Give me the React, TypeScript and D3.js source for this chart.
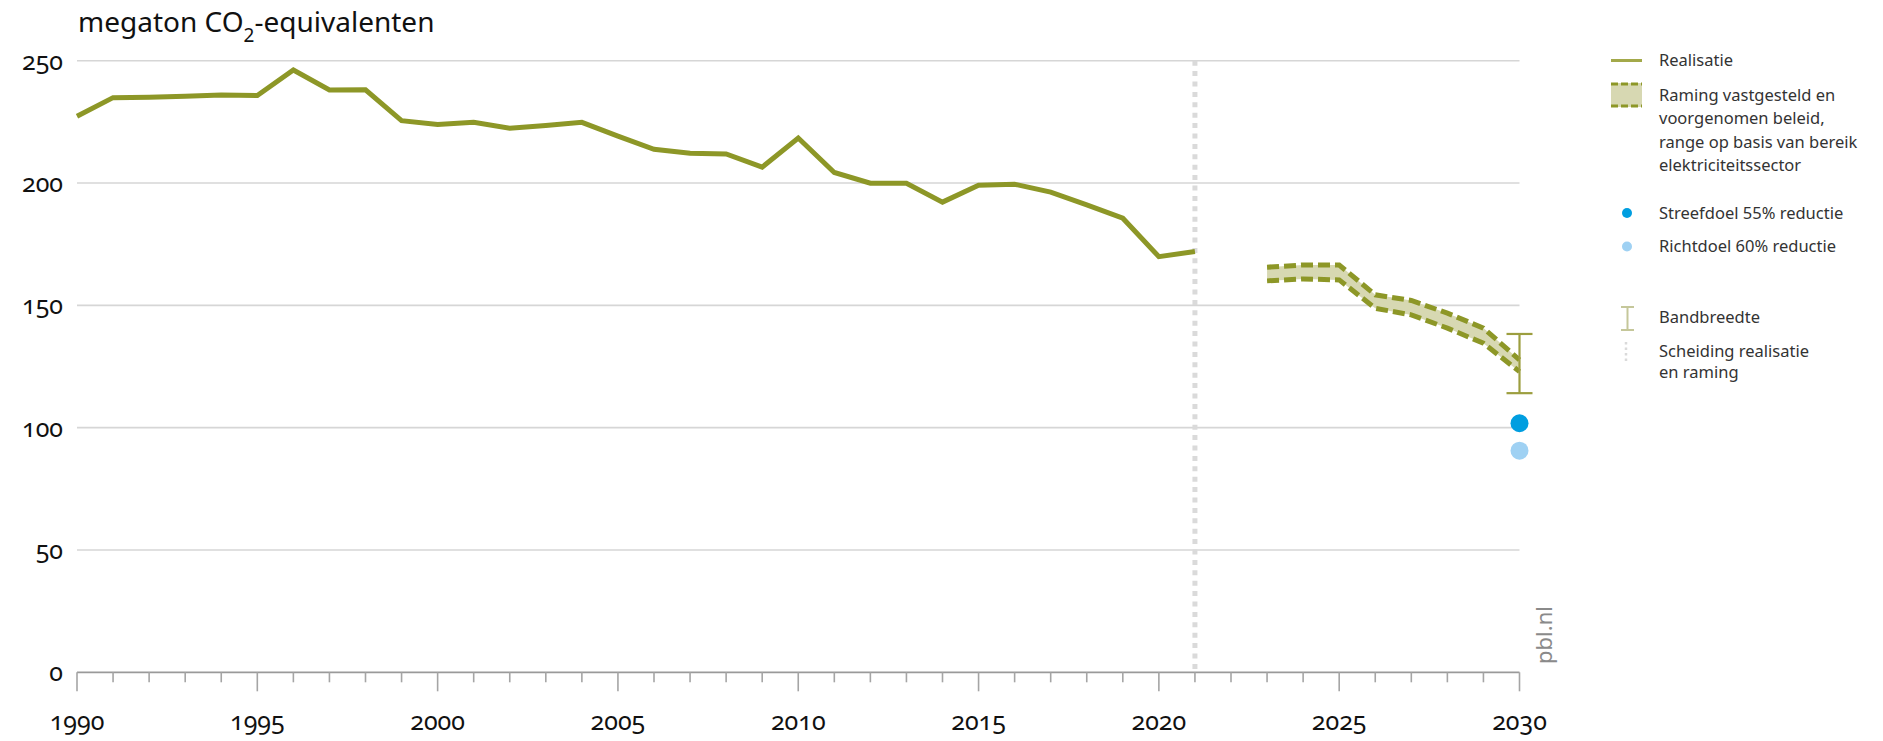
import React from 'react';
import * as d3 from 'd3';

// realisatie (historische emissies)
const realYears = [1990, 1991, 1992, 1993, 1994, 1995, 1996, 1997, 1998, 1999, 2000, 2001, 2002, 2003, 2004, 2005, 2006, 2007, 2008, 2009, 2010, 2011, 2012, 2013, 2014, 2015, 2016, 2017, 2018, 2019, 2020, 2021];
const realValues = [227.3, 234.9, 235.1, 235.5, 236.0, 235.8, 246.2, 238.0, 238.1, 225.5, 223.9, 224.8, 222.4, 223.5, 224.8, 219.2, 213.8, 212.2, 211.9, 206.5, 218.4, 204.3, 199.9, 199.9, 192.2, 199.1, 199.5, 196.3, 191.1, 185.6, 169.9, 172.0];

// raming vastgesteld en voorgenomen beleid
const rangeYears = [2023, 2024, 2025, 2026, 2027, 2028, 2029, 2030];
const rangeUpper = [165.6, 166.5, 166.5, 154.3, 152.0, 146.8, 140.7, 127.7];
const rangeLower = [160.0, 160.8, 160.4, 148.8, 146.1, 140.7, 134.5, 122.9];

// bandbreedte en doelen 2030
const bandYear = 2030;
const bandLow = 114.1;
const bandHigh = 138.3;
const targetYear = 2030;
const streefdoel = 101.8;
const richtdoel = 90.6;
const splitYear = 2021;

const yTickValues = [0, 50, 100, 150, 200, 250];
const xLabelYears = [1990, 1995, 2000, 2005, 2010, 2015, 2020, 2025, 2030];

const OLIVE = '#8d9727';
const BAND = '#d7d8b2';
const FONT = '"Noto Sans", "Open Sans", sans-serif';

export default function App() {
  const x = d3.scaleLinear().domain([1990, 2030]).range([77, 1519.5]);
  const y = d3.scaleLinear().domain([0, 250]).range([672.3, 60.7]);

  const line = d3.line<[number, number]>().x(d => x(d[0])).y(d => y(d[1]));
  const realPath = line(realYears.map((yr, i) => [yr, realValues[i]]));
  const upperPath = line(rangeYears.map((yr, i) => [yr, rangeUpper[i]]));
  const lowerPath = line(rangeYears.map((yr, i) => [yr, rangeLower[i]]));
  const bandArea = d3.area<number>()
    .x((d, i) => x(rangeYears[i]))
    .y0((d, i) => y(rangeLower[i]))
    .y1(d => y(d))(rangeUpper);

  const yearTicks = x.ticks(40);
  const numStyle: React.CSSProperties = { fontVariantNumeric: 'oldstyle-nums' };

  const lx = 1611;
  const tx = 1659;

  return (
    <svg width={1883} height={741} style={{ position: 'absolute', left: 0, top: 0, background: '#fff' }} fontFamily={FONT}>
      {/* titel */}
      <text x={78} y={32} fontSize={28} fill="#111">
        megaton CO<tspan fontSize={19} dy={10}>2</tspan><tspan dy={-10}>-equivalenten</tspan>
      </text>

      {/* rasterlijnen */}
      {yTickValues.filter(v => v > 0).map(v => (
        <line key={v} x1={x(1990)} x2={x(2030)} y1={y(v)} y2={y(v)} stroke="#d6d6d6" strokeWidth={1.6} />
      ))}
      {yTickValues.map(v => (
        <text key={'l' + v} x={63} y={y(v) + 9} textAnchor="end" fontSize={25} fill="#111" style={numStyle}>{v}</text>
      ))}

      {/* scheiding realisatie en raming */}
      <line x1={x(splitYear)} x2={x(splitYear)} y1={y(250)} y2={y(0)} stroke="#dadada" strokeWidth={5} strokeDasharray="5,5.4" />

      {/* x-as */}
      <line x1={x(1990)} x2={x(2030)} y1={y(0)} y2={y(0)} stroke="#9a9a9a" strokeWidth={1.8} />
      {yearTicks.map(t => (
        <line key={t} x1={x(t)} x2={x(t)} y1={y(0)} y2={y(0) + (t % 5 === 0 ? 19 : 10)} stroke="#a5a5a5" strokeWidth={1.6} />
      ))}
      {xLabelYears.map(t => (
        <text key={'x' + t} x={x(t)} y={730} textAnchor="middle" fontSize={25} fill="#111" style={numStyle}>{t}</text>
      ))}

      {/* realisatie */}
      <path d={realPath || ''} fill="none" stroke={OLIVE} strokeWidth={5} strokeLinejoin="miter" />

      {/* raming band */}
      <path d={bandArea || ''} fill={BAND} />
      <path d={upperPath || ''} fill="none" stroke={OLIVE} strokeWidth={5} strokeDasharray="12,5" />
      <path d={lowerPath || ''} fill="none" stroke={OLIVE} strokeWidth={5} strokeDasharray="12,5" />

      {/* bandbreedte */}
      <g stroke="#9c9e3f" strokeWidth={2.2}>
        <line x1={x(bandYear)} x2={x(bandYear)} y1={y(bandHigh)} y2={y(bandLow)} />
        <line x1={x(bandYear) - 13} x2={x(bandYear) + 13} y1={y(bandHigh)} y2={y(bandHigh)} />
        <line x1={x(bandYear) - 13} x2={x(bandYear) + 13} y1={y(bandLow)} y2={y(bandLow)} />
      </g>

      {/* doelen */}
      <circle cx={x(targetYear)} cy={y(streefdoel)} r={9} fill="#009ee0" />
      <circle cx={x(targetYear)} cy={y(richtdoel)} r={9} fill="#9fd1f3" />

      <text transform={`translate(${1552},${664}) rotate(-90)`} fontSize={22} fill="#8a8a8a">pbl.nl</text>

      {/* legenda */}
      <g fontSize={16.5} fill="#333">
        <line x1={lx} x2={lx + 31} y1={60.5} y2={60.5} stroke="#a3a94a" strokeWidth={3} />
        <text x={tx} y={66}>Realisatie</text>

        <rect x={lx} y={83} width={31} height={24} fill={BAND} />
        <line x1={lx} x2={lx + 31} y1={84} y2={84} stroke={OLIVE} strokeWidth={3} strokeDasharray="7,3" />
        <line x1={lx} x2={lx + 31} y1={106} y2={106} stroke={OLIVE} strokeWidth={3} strokeDasharray="7,3" />
        <text x={tx} y={101}>Raming vastgesteld en</text>
        <text x={tx} y={124}>voorgenomen beleid,</text>
        <text x={tx} y={147.5}>range op basis van bereik</text>
        <text x={tx} y={170.5}>elektriciteitssector</text>

        <circle cx={1627} cy={213} r={5} fill="#009ee0" />
        <text x={tx} y={218.5}>Streefdoel 55% reductie</text>
        <circle cx={1627} cy={246.5} r={5} fill="#9fd1f3" />
        <text x={tx} y={251.5}>Richtdoel 60% reductie</text>

        <g stroke="#c5c79a" strokeWidth={2}>
          <line x1={1627.5} x2={1627.5} y1={307} y2={330} />
          <line x1={1621} x2={1634} y1={307} y2={307} />
          <line x1={1621} x2={1634} y1={330} y2={330} />
        </g>
        <text x={tx} y={323}>Bandbreedte</text>

        <line x1={1626} x2={1626} y1={342} y2={364} stroke="#dadada" strokeWidth={2.5} strokeDasharray="2.5,3" />
        <text x={tx} y={356.5}>Scheiding realisatie</text>
        <text x={tx} y={378}>en raming</text>
      </g>
    </svg>
  );
}
